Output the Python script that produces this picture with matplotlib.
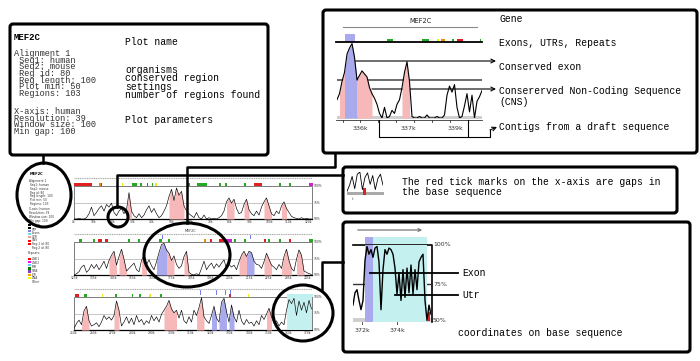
import matplotlib.pyplot as plt
import numpy as np
from matplotlib.patches import Rectangle, Ellipse, FancyBboxPatch

# conservation profiles (% identity, 50-100), sampled evenly along each track
panel1 = [50, 50, 51, 50, 50, 52, 58, 68, 55, 60, 66, 70, 62, 72, 68, 74, 60, 55,
          62, 66, 58, 64, 90, 62, 55, 52, 58, 52, 56, 64, 70, 60, 66, 58, 52, 55,
          62, 70, 84, 95, 78, 97, 86, 92, 70, 62, 58, 55, 52, 60, 52, 50, 56, 50,
          52, 50, 51, 50, 52, 55, 62, 76, 82, 74, 80, 66, 58, 60, 72, 80, 64, 58,
          55, 62, 56, 68, 76, 82, 70, 58, 55, 62, 58, 70, 76, 66, 60, 54, 52, 51,
          50, 52, 50, 51, 50, 50]
panel2 = [50, 52, 55, 62, 65, 54, 58, 66, 60, 66, 58, 64, 71, 60, 72, 80, 86, 65,
          78, 89, 74, 56, 60, 64, 68, 58, 55, 72, 80, 66, 73, 64, 58, 70, 84, 96,
          98, 88, 83, 72, 79, 66, 60, 64, 78, 86, 54, 51, 50, 52, 50, 60, 71, 58,
          64, 68, 60, 67, 62, 68, 73, 60, 66, 62, 65, 58, 70, 80, 86, 78, 86, 84,
          71, 66, 65, 60, 70, 83, 74, 65, 62, 58, 66, 60, 78, 89, 72, 60, 56, 74,
          88, 80, 56, 54, 52, 51]
panel3 = [52, 60, 65, 58, 79, 86, 64, 56, 58, 61, 55, 62, 72, 66, 70, 65, 72, 94,
          80, 56, 62, 70, 60, 68, 58, 72, 62, 66, 58, 64, 60, 72, 64, 70, 62, 74,
          80, 86, 95, 82, 76, 80, 68, 80, 64, 60, 70, 62, 80, 72, 84, 99, 70, 64,
          60, 72, 86, 68, 62, 92, 98, 78, 62, 88, 70, 62, 80, 64, 58, 66, 60, 62,
          56, 64, 58, 72, 66, 74, 83, 70, 60, 64, 56, 62, 58, 80, 96, 90, 98, 72,
          94, 80, 92, 76, 95, 82]
gene_zoom = [62, 66, 74, 80, 92, 96, 99, 90, 75, 78, 81, 79, 77, 70, 66, 63, 59, 53,
             50, 57, 50, 51, 55, 53, 59, 62, 70, 80, 87, 74, 51, 50, 50, 51, 50, 50,
             52, 50, 50, 50, 51, 50, 50, 52, 65, 71, 67, 72, 57, 50, 51, 58, 66, 54,
             65, 50, 61, 64, 68]
utr_zoom = [61, 69, 71, 64, 58, 64, 90, 99, 94, 97, 92, 98, 99, 89, 58, 84, 97, 94,
            98, 97, 94, 85, 68, 82, 64, 84, 66, 85, 69, 87, 68, 84, 71, 89, 92, 94,
            64, 51, 61, 55]
gap_icon = [56, 70, 90, 62, 95, 100, 60, 88, 98, 72, 92, 60, 85, 95, 70]

# shaded regions as (first, last) sample index
panel1_cns = [(21, 23), (38, 44), (61, 64), (68, 70), (76, 79), (83, 85)]
panel2_cns = [(14, 17), (18, 21), (27, 29), (37, 40), (44, 46), (66, 69), (76, 79), (83, 87), (89, 92)]
panel2_exon = [(33, 37), (69, 72)]
panel3_cns = [(3, 6), (16, 18), (36, 41), (49, 52), (77, 79)]
panel3_exon = [(55, 57), (58, 61), (62, 64)]
panel3_utr = [(85, 95)]
gene_cns = [(1, 3), (8, 14), (26, 29)]
gene_exon = [(3, 8)]
utr_exon = [(6, 10)]
utr_utr = [(10, 37)]

# annotation bar features (start, end, colour)
panel1_feat = [(0, 7, 'red'), (10, 10.6, 'orange'), (10.6, 11.2, 'red'), (19, 19.6, 'yellow'),
               (23, 25, 'green'), (26.5, 27.2, 'green'), (29, 29.6, 'red'), (31, 31.6, 'green'),
               (32.5, 33, 'yellow'), (45, 46.5, 'green'), (49, 53, 'green'), (58, 58.7, 'green'),
               (60.5, 61.2, 'green'), (68, 68.7, 'green'), (72, 75, 'red'), (82, 82.7, 'green'),
               (86, 86.7, 'green'), (94, 95.5, 'magenta')]
panel2_feat = [(2, 3, 'green'), (7.5, 8.2, 'green'), (9.5, 11, 'red'), (12.5, 13.5, 'red'),
               (21.5, 22.2, 'green'), (25.5, 26.2, 'green'), (34, 35, 'green'), (37.5, 38.2, 'green'),
               (52, 52.7, 'orange'), (54.5, 55.2, 'red'), (58, 60, 'red'), (60, 63, 'magenta'),
               (64, 64.7, 'green'), (68, 68.7, 'green'), (76, 76.7, 'red'), (77.5, 78.2, 'green'),
               (82, 82.7, 'green'), (86, 86.7, 'red'), (94, 95.5, 'green')]
panel3_feat = [(0.5, 2, 'red'), (4, 5, 'green'), (11, 11.6, 'yellow'), (16.5, 17.2, 'green'),
               (23, 23.7, 'green'), (26, 26.7, 'green'), (30, 30.6, 'yellow'), (34.5, 35.2, 'green'),
               (62, 62.7, 'red'), (69.5, 70.1, 'yellow'), (85, 95.5, 'cyan')]
gene_feat = [(20, 22.5, 'green'), (34, 36.8, 'green'), (40, 40.5, 'yellow'), (41.5, 43, 'orange'),
             (46, 46.6, 'green'), (48, 50.5, 'red'), (57, 57.6, 'green')]

panel_ticks = [['0k', '10k', '20k', '30k', '40k', '50k', '60k', '70k', '80k', '90k', '100k', '110k', '120k'],
               ['125k', '135k', '145k', '155k', '165k', '175k', '185k', '195k', '205k', '215k', '225k', '235k', '245k'],
               ['250k', '260k', '270k', '280k', '290k', '300k', '310k', '320k', '330k', '340k', '350k', '360k', '370k']]
gene_ticks = ['336k', '337k', '339k']
utr_ticks = ['372k', '374k']
pct_labels = ['100%', '75%', '50%']

settings = ['Alignment 1', ' Seq1: human', ' Seq2: mouse', ' Reg id: 80', ' Reg length: 100',
            ' Plot min: 50', ' Regions: 103']
plot_params = ['X-axis: human', 'Resolution: 39', 'Window size: 100', 'Min gap: 100']
settings_notes = ['organisms', 'conserved region', 'settings', 'number of regions found']
legend_items = ['contig', 'gap', 'Exons', 'UTR', 'CNS', 'Reg 1 id: 80', 'Reg 2 id: 80']
legend_cols = ['k', 'k', '#8080e0', '#70dede', '#f0a0a0', 'red', 'red']
repeat_items = ['LINE1', 'LINE2', 'MIR', 'SINE', 'LTR', 'DNA', 'Other']
repeat_cols = ['red', 'magenta', '#60d0f0', 'green', '#8040c0', 'orange', 'yellow']

COL = {'red': '#e02020', 'green': '#22aa22', 'orange': '#f08c00', 'yellow': '#eeee10',
       'magenta': '#d020d0', 'cyan': '#bff0f0'}
CNS_C, EXON_C, UTR_C = '#f6b8b8', '#a9a9ee', '#c4f0f0'
MONO = 'Liberation Mono'

W, H = 700, 361
fig = plt.figure(figsize=(7, 3.61), dpi=100)
ax = fig.add_axes([0, 0, 1, 1])
ax.set_xlim(0, W)
ax.set_ylim(H, 0)
ax.axis('off')


def px_axes(x0, y0, x1, y1, z=1):
    a = fig.add_axes([x0 / W, 1 - y1 / H, (x1 - x0) / W, (y1 - y0) / H], zorder=z)
    a.axis('off')
    return a


def track(rect, vals, cns=(), exon=(), utr=(), exon_bg=(), lw=0.5, grid='#999', glw=0.4):
    a = px_axes(*rect)
    v = np.asarray(vals, dtype=float)
    x = np.arange(len(v))
    a.set_xlim(0, len(v) - 1)
    a.set_ylim(50, 100)
    a.axhline(75, color=grid, lw=glw, zorder=0.5)
    for s, e in utr:
        a.axvspan(s, e, color=UTR_C, lw=0, zorder=1)
    for s, e in exon_bg:
        a.axvspan(s, e, color=EXON_C, lw=0, zorder=1)
    for spans, col in ((cns, CNS_C), (exon, EXON_C)):
        for s, e in spans:
            a.fill_between(x[s:e + 1], 50, v[s:e + 1], color=col, lw=0, zorder=1)
    a.plot(x, v, color='k', lw=lw, zorder=2)
    return a


def features(x0, step, y, h, items):
    for s, e, c in items:
        ax.add_patch(Rectangle((x0 + s * step, y), max((e - s) * step, 1.5), h,
                               color=COL[c], lw=0))


def box(x0, y0, x1, y1):
    ax.add_patch(FancyBboxPatch((x0, y0), x1 - x0, y1 - y0, boxstyle='round,pad=0,rounding_size=3',
                                fc='white', ec='black', lw=2.2, zorder=0.5))


def block(x, y, lines, size, spacing_px, **kw):
    # one multi-line text, top line starting at y; line height is ~1.15 em
    ax.text(x, y, '\n'.join(lines), fontsize=size, va='top',
            linespacing=spacing_px / (size * 100 / 72 * 1.15), **kw)


# ---------------- boxes ----------------
box(10, 24, 268, 155)
box(323, 10, 697, 153)
box(343, 167, 677, 213)
box(343, 222, 690, 352)

# box 1: plot header explanation
ax.text(14, 38, 'MEF2C', family=MONO, fontsize=6.5, weight='bold', va='center')
block(14, 49, settings, 6.2, 6.6, family=MONO, color='#333')
block(14, 107, plot_params, 6.2, 6.7, family=MONO, color='#333')
ax.text(125, 42, 'Plot name', family=MONO, fontsize=7, va='center')
block(125, 65, settings_notes, 7, 9, family=MONO)
ax.text(125, 120, 'Plot parameters', family=MONO, fontsize=7, va='center')

# ---------------- main VISTA plot (three rows) ----------------
rows = [(panel1, panel1_cns, (), (), panel1_feat, 186, 219),
        (panel2, panel2_cns, panel2_exon, (), panel2_feat, 242, 275),
        (panel3, panel3_cns, panel3_exon, panel3_utr, panel3_feat, 297, 330)]
PX0, STEP = 74, 2.5
for k, (vals, cns, exon, utr, feat, y0, y1) in enumerate(rows):
    x1 = PX0 + STEP * (len(vals) - 1)
    ax.add_patch(Rectangle((PX0, y0), x1 - PX0, y1 - y0, fill=False, ec='#666', lw=0.6))
    ax.plot([PX0, x1], [y1, y1], color='k', lw=0.9)
    track((PX0, y0, x1, y1), vals, cns=cns, exon=exon, utr=utr, lw=0.45)
    ax.plot([PX0, x1], [y0 - 8, y0 - 8], color='#aaa', lw=0.8, ls=(0, (1, 0.6)))
    features(PX0, STEP, y0 - 3, 3, feat)
    for j, lab in enumerate(panel_ticks[k]):
        ax.text(PX0 + j * 19.5, y1 + 3, lab, fontsize=2.2, ha='center', va='center', color='#333')
    for lab, yy in zip(pct_labels, (y0, (y0 + y1) / 2, y1)):
        ax.text(x1 + 2, yy, lab, fontsize=2.2, va='center', color='#333')
ax.text(190, 231, 'MEF2C', fontsize=2.4, ha='center', va='center', color='#333')
for xm in (162, 250):
    ax.plot([xm, xm], [235, 238], color='#6060e0', lw=0.6)
for xm in (200, 216, 225, 230):
    ax.plot([xm, xm], [290, 294], color='#6060e0', lw=0.6)

# legend column of the main plot
ax.text(30, 174, 'MEF2C', fontsize=2.6, weight='bold', va='center')
block(29, 179, settings, 2.1, 3.2, color='#333')
block(29, 207, plot_params, 2.1, 3.2, color='#333')
for i, c in enumerate(legend_cols):
    ax.add_patch(Rectangle((28, 223.5 + i * 3.2), 2.5, 2, color=c, lw=0))
block(32, 223, legend_items, 2.1, 3.2, color='#333')
ax.text(28, 253, 'Repeats:', fontsize=2.2, va='center', color='#333')
for i, c in enumerate(repeat_cols):
    ax.add_patch(Rectangle((28, 258 + i * 3.1), 2.5, 2.2, color=c, lw=0))
block(32, 257.5, repeat_items, 2.1, 3.1, color='#333')

# ---------------- box 2: gene close-up ----------------
GX0, GSTEP = 337, 2.5
gx1 = GX0 + GSTEP * (len(gene_zoom) - 1)
ax.text(421, 21, 'MEF2C', fontsize=4.8, ha='center', va='center', color='#222')
ax.plot([343, 477], [27, 27], color='#888', lw=0.8)
ax.add_patch(Rectangle((GX0 + 3 * GSTEP, 34), 4.3 * GSTEP, 8, color=EXON_C, lw=0))
features(GX0, GSTEP, 38.5, 3.5, gene_feat)
ax.plot([GX0 - 1, gx1], [42, 42], color='k', lw=1.3)
ax.add_patch(Rectangle((GX0, 115.5), gx1 - GX0, 3, color='#cfcfcf', lw=0))
track((GX0, 42, gx1, 118), gene_zoom, cns=gene_cns, exon=gene_exon, lw=0.8, grid='#444', glw=1.1)
ax.plot([GX0 - 1, gx1], [119.5, 119.5], color='#333', lw=0.6)
for xt in (343, 360, 378, 396, 414, 432, 450, 468):
    ax.plot([xt, xt], [119.5, 122], color='#333', lw=0.6)
for lab, xt in zip(gene_ticks, (360, 408, 455)):
    ax.text(xt, 128, lab, fontsize=4.5, ha='center', va='center', color='#333')

for s, y in zip(['Gene', 'Exons, UTRs, Repeats'], [19, 43]):
    ax.text(499, y, s, family=MONO, fontsize=7, va='center')
ax.text(499, 67, 'Conserved exon', family=MONO, fontsize=7, va='center')
block(499, 86, ['Consererved Non-Coding Sequence', '(CNS)'], 7, 13, family=MONO)
ax.text(499, 127, 'Contigs from a draft sequence', family=MONO, fontsize=7, va='center')
arrow = dict(arrowstyle='->', lw=0.8, color='k', shrinkA=0, shrinkB=0, mutation_scale=7)
ax.annotate('', xy=(496, 61), xytext=(355, 61), arrowprops=arrow)
ax.annotate('', xy=(496, 89), xytext=(372, 89), arrowprops=arrow)
ax.plot([379, 379, 490, 490], [120, 137, 137, 130], color='k', lw=0.8)
ax.plot([468, 468], [120, 137], color='k', lw=0.8)
ax.annotate('', xy=(497, 127), xytext=(490, 130), arrowprops=arrow)

# ---------------- box 3: gaps note ----------------
ax.add_patch(Rectangle((347, 192), 37, 2.5, color='#aaa', lw=0))
track((347, 172, 383, 194), gap_icon, lw=0.6, grid='none', glw=0)
ax.add_patch(Rectangle((363, 188), 2.5, 7, color='#e02020', lw=0))
ax.text(352, 199, 't', fontsize=3, color='#555', va='center')
block(402, 177, ['The red tick marks on the x-axis are gaps in', 'the base sequence'], 7, 11.5,
      family=MONO)

# ---------------- box 4: exon / UTR close-up ----------------
UX0, USTEP = 353, 2
ux1 = UX0 + USTEP * (len(utr_zoom) - 1)
ax.annotate('', xy=(425, 230), xytext=(355, 230),
            arrowprops=dict(arrowstyle='->', lw=0.9, color='#777', mutation_scale=5))
ax.add_patch(Rectangle((UX0 + 6 * USTEP, 237), 4 * USTEP, 7, color=EXON_C, lw=0))
ax.add_patch(Rectangle((UX0 + 10 * USTEP, 237), 27 * USTEP, 7, color=UTR_C, lw=0))
ax.add_patch(Rectangle((UX0, 318), ux1 - UX0, 4, color='#cfcfcf', lw=0))
track((UX0, 245, ux1, 322), utr_zoom, exon_bg=utr_exon, utr=utr_utr, lw=1.0, grid='#333', glw=1.0)
ax.plot([UX0, ux1 + 1, ux1 + 1], [245, 245, 322], color='k', lw=1.2)
ax.add_patch(Rectangle((ux1 - 3, 312), 1.5, 9, color='#e02020', lw=0))
for lab, yy in zip(pct_labels, (245, 284, 321)):
    ax.text(ux1 + 2, yy, lab, fontsize=4.5, va='center', color='#333')
for lab, xt in zip(utr_ticks, (362, 397)):
    ax.text(xt, 330, lab, fontsize=4.5, ha='center', va='center', color='#333')
    ax.plot([xt, xt], [322, 324], color='#333', lw=0.6)
ov = px_axes(0, 0, W, H, z=5)
ov.set_xlim(0, W)
ov.set_ylim(H, 0)
ov.plot([370, 458], [273, 273], color='k', lw=1.3)
ov.plot([395, 458], [295, 295], color='k', lw=1.3)
ax.text(462, 273, 'Exon', family=MONO, fontsize=7, va='center')
ax.text(462, 295, 'Utr', family=MONO, fontsize=7, va='center')
ax.text(458, 333, 'coordinates on base sequence', family=MONO, fontsize=7, va='center')

# ---------------- circles and connectors ----------------
for cx, cy, rx, ry in [(44, 195, 27, 32), (118, 217, 10, 10), (187, 255, 43, 32), (303, 313, 30, 28)]:
    ov.add_patch(Ellipse((cx, cy), 2 * rx, 2 * ry, fill=False, ec='black', lw=2.2))
ov.plot([43, 43], [155, 163], color='k', lw=1.8)
ov.plot([117, 117, 343], [207, 175, 175], color='k', lw=1.8)
ov.plot([187, 187, 335, 335], [223, 167, 167, 153], color='k', lw=1.8)
ov.plot([322, 322, 343], [289, 262, 262], color='k', lw=1.8)

fig.savefig('out.png', dpi=100)
